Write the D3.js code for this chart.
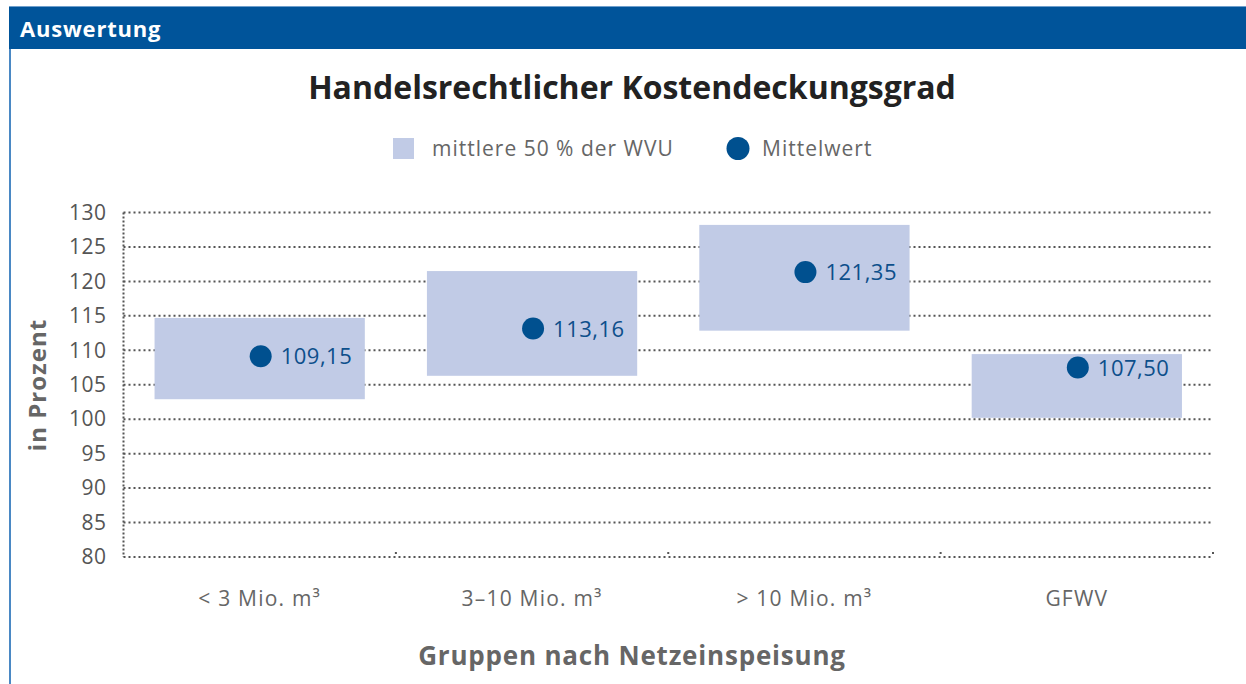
<!doctype html>
<html>
<head>
	<meta charset="utf-8">
	<title>Handelsrechtlicher Kostendeckungsgrad</title>
	<script src="https://d3js.org/d3.v7.min.js"></script>
	<style>
		body { margin: 0; background: #fff; }
		svg { display: block; font-family: "Open Sans", "Noto Sans", sans-serif; }
	</style>
</head>
<body>
	<div id="chart"></div>
	<script>
		// Data
		const categories = ['< 3 Mio. m³', '3–10 Mio. m³', '> 10 Mio. m³', 'GFWV'];
		const boxLow = [102.9, 106.3, 112.85, 100.2];   // lower edge of the middle 50 %
		const boxHigh = [114.7, 121.5, 128.2, 109.45];  // upper edge of the middle 50 %
		const means = [109.15, 113.16, 121.35, 107.50];
		const yTicks = [80, 85, 90, 95, 100, 105, 110, 115, 120, 125, 130];

		const W = 1246, H = 684;
		const margin = { top: 212.5, right: 33, bottom: 127, left: 123.5 };
		const width = W - margin.left - margin.right;
		const height = H - margin.top - margin.bottom;

		const blue = '#00508f';
		const boxColor = '#c1cbe6';
		const grey = '#666';

		const svg = d3.select('#chart').append('svg')
			.attr('width', W)
			.attr('height', H);

		// header bar + frame
		svg.append('rect')
			.attr('x', 9).attr('y', 6)
			.attr('width', W - 9).attr('height', 43)
			.attr('fill', '#00549a');
		svg.append('line')
			.attr('x1', 9).attr('x2', W).attr('y1', 6.5).attr('y2', 6.5)
			.attr('stroke', '#6f9fcc').attr('stroke-width', 1);
		svg.append('line')
			.attr('x1', 10).attr('x2', 10).attr('y1', 49).attr('y2', H)
			.attr('stroke', '#4a88c4').attr('stroke-width', 2);
		svg.append('text')
			.attr('x', 20).attr('y', 37)
			.attr('fill', '#fff')
			.attr('font-size', '22px')
			.attr('letter-spacing', '0.8px')
			.attr('font-weight', 'bold')
			.text('Auswertung');

		// title
		svg.append('text')
			.attr('x', 632).attr('y', 99)
			.attr('text-anchor', 'middle')
			.attr('font-size', '32px')
			.attr('font-weight', 'bold')
			.attr('fill', '#222')
			.text('Handelsrechtlicher Kostendeckungsgrad');

		// legend
		svg.append('rect')
			.attr('x', 393).attr('y', 138)
			.attr('width', 21).attr('height', 21)
			.attr('fill', boxColor);
		svg.append('text')
			.attr('x', 432).attr('y', 156)
			.attr('font-size', '21px')
			.attr('letter-spacing', '1px')
			.attr('fill', grey)
			.text('mittlere 50 % der WVU');
		svg.append('circle')
			.attr('cx', 738).attr('cy', 148.5).attr('r', 11.5)
			.attr('fill', blue);
		svg.append('text')
			.attr('x', 762).attr('y', 156)
			.attr('font-size', '21px')
			.attr('letter-spacing', '1px')
			.attr('fill', grey)
			.text('Mittelwert');

		const g = svg.append('g')
			.attr('transform', 'translate(' + margin.left + ',' + margin.top + ')');

		const x = d3.scaleBand()
			.domain(categories)
			.range([0, width])
			.paddingInner(0)
			.paddingOuter(0);

		const y = d3.scaleLinear()
			.domain([80, 130])
			.range([height, 0]);

		// dotted grid lines
		g.append('g')
			.selectAll('line')
			.data(yTicks)
			.join('line')
			.attr('x1', 0).attr('x2', width)
			.attr('y1', d => y(d)).attr('y2', d => y(d))
			.attr('stroke', '#555')
			.attr('stroke-width', 2)
			.attr('stroke-dasharray', '2,3');

		// dotted y axis line
		g.append('line')
			.attr('x1', 0).attr('x2', 0)
			.attr('y1', 0).attr('y2', height)
			.attr('stroke', '#555')
			.attr('stroke-width', 2)
			.attr('stroke-dasharray', '2,2');

		// category boundary ticks
		g.append('g')
			.selectAll('rect')
			.data(categories)
			.join('rect')
			.attr('x', d => x(d) + x.bandwidth() - 1)
			.attr('y', height - 5)
			.attr('width', 2).attr('height', 2)
			.attr('fill', '#555');

		// y tick labels
		const yAxis = g.append('g')
			.call(d3.axisLeft(y).tickValues(yTicks).tickSize(0).tickPadding(17));
		yAxis.select('.domain').remove();
		yAxis.selectAll('text')
			.attr('font-size', '21px')
			.attr('letter-spacing', '0.5px')
			.attr('font-family', '"Open Sans", "Noto Sans", sans-serif')
			.attr('fill', '#555');

		// x tick labels
		const xAxis = g.append('g')
			.attr('transform', 'translate(0,' + height + ')')
			.call(d3.axisBottom(x).tickSize(0).tickPadding(34));
		xAxis.select('.domain').remove();
		xAxis.selectAll('text')
			.attr('font-size', '21px')
			.attr('letter-spacing', '1.2px')
			.attr('font-family', '"Open Sans", "Noto Sans", sans-serif')
			.attr('fill', grey);

		// boxes
		const boxW = x.bandwidth() * 0.772;
		g.append('g')
			.selectAll('rect')
			.data(categories)
			.join('rect')
			.attr('x', d => x(d) + (x.bandwidth() - boxW) / 2)
			.attr('y', (d, i) => y(boxHigh[i]))
			.attr('width', boxW)
			.attr('height', (d, i) => y(boxLow[i]) - y(boxHigh[i]))
			.attr('fill', boxColor);

		// mean points
		g.append('g')
			.selectAll('circle')
			.data(categories)
			.join('circle')
			.attr('cx', d => x(d) + x.bandwidth() / 2 + 1)
			.attr('cy', (d, i) => y(means[i]))
			.attr('r', 11)
			.attr('fill', blue);

		g.append('g')
			.selectAll('text')
			.data(categories)
			.join('text')
			.attr('x', d => x(d) + x.bandwidth() / 2 + 21)
			.attr('y', (d, i) => y(means[i]) + 8)
			.attr('font-size', '22px')
			.attr('letter-spacing', '0.5px')
			.attr('fill', '#0d4f8b')
			.text((d, i) => d3.format('.2f')(means[i]).replace('.', ','));

		// axis titles
		svg.append('text')
			.attr('transform', 'translate(46,385) rotate(-90)')
			.attr('text-anchor', 'middle')
			.attr('font-size', '24px')
			.attr('letter-spacing', '1px')
			.attr('font-weight', 'bold')
			.attr('fill', grey)
			.text('in Prozent');

		svg.append('text')
			.attr('x', 632).attr('y', 665)
			.attr('text-anchor', 'middle')
			.attr('font-size', '26px')
			.attr('letter-spacing', '0.8px')
			.attr('font-weight', 'bold')
			.attr('fill', grey)
			.text('Gruppen nach Netzeinspeisung');
	</script>
</body>
</html>
